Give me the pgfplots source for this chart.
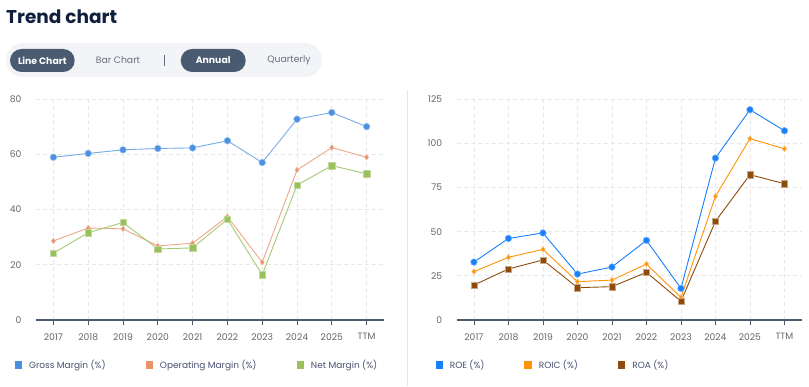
\documentclass[border=0pt]{standalone}
\usepackage{pgfplots}
\pgfplotsset{compat=1.18}
\usepackage{fontspec}
\setmainfont{Poppins}
\definecolor{gmc}{HTML}{4A90E2}
\definecolor{omc}{HTML}{E8916B}
\definecolor{nmc}{HTML}{98C15B}
\definecolor{roec}{HTML}{1780FA}
\definecolor{roicc}{HTML}{FF9305}
\definecolor{roac}{HTML}{8E4B0C}
\definecolor{axisc}{HTML}{4D5A6E}
\definecolor{gridc}{HTML}{E8E8E8}
\definecolor{tickc}{HTML}{666666}
\definecolor{legc}{HTML}{4A5070}
\definecolor{titlec}{HTML}{0F1F3D}
\definecolor{pillbg}{HTML}{F3F4F8}
\definecolor{btnc}{HTML}{4A5A70}
\definecolor{btntxt}{HTML}{6A6E7A}
\pgfplotsset{
  trend/.style={
    scale only axis,
    clip=false,
    xmin=-0.5, xmax=9.5, ymin=0,
    axis x line=bottom, axis y line=left,
    x axis line style={-, draw=axisc, line width=1.2pt},
    y axis line style={draw=none},
    xtick={0,...,9},
    xticklabels={2017,2018,2019,2020,2021,2022,2023,2024,2025,TTM},
    tick align=outside, major tick length=5pt,
    xtick style={draw=axisc, line width=0.8pt},
    ytick style={draw=none},
    grid=major,
    major grid style={draw=gridc, line width=0.8pt, dash pattern=on 4pt off 3pt},
    /pgf/number format/assume math mode=true,
    ticklabel style={font=\fontsize{9.2}{11}\selectfont, text=tickc},
    xticklabel style={yshift=-5pt},
    yticklabel style={xshift=-6pt},
    legend columns=3,
    legend cell align=left,
    legend style={draw=none, fill=none, inner sep=0pt, anchor=west,
      font=\fontsize{9}{11}\selectfont, text=legc,
      nodes={inner sep=0pt},
      /tikz/every odd column/.append style={column sep=7pt},
      /tikz/every even column/.append style={column sep=40pt}},
    legend image code/.code={\fill[#1, draw=none] (0pt,-3.7pt) rectangle (7.4pt,3.7pt);},
  },
  line/.style={line width=0.9pt},
}
\begin{document}
\begin{tikzpicture}[x=1pt,y=1pt]
\path[use as bounding box, fill=white] (0,0) rectangle (809,386);
% title
\node[anchor=base west, inner sep=0pt, text=titlec, font=\fontsize{18.5}{22}\selectfont\bfseries] at (6,362) {Trend chart};
% toggle pill
\fill[pillbg, rounded corners=17pt] (6,309) rectangle (322,343);
\fill[btnc, rounded corners=11.5pt] (10,314) rectangle (74.7,337);
\node[text=white, font=\fontsize{9.3}{11}\selectfont\bfseries] at (42.3,325.5) {Line Chart};
\node[text=btntxt, font=\fontsize{9.3}{11}\selectfont] at (118,325.5) {Bar Chart};
\draw[btntxt, line width=0.8pt] (164.7,320) -- (164.7,331);
\fill[btnc, rounded corners=11.5pt] (180.7,314) rectangle (245.7,337);
\node[text=white, font=\fontsize{9.3}{11}\selectfont\bfseries] at (213.2,325.5) {Annual};
\node[text=btntxt, font=\fontsize{9.3}{11}\selectfont] at (289,325.5) {Quarterly};
% divider
\draw[draw=gridc, line width=1pt] (407,0) -- (407,296);

% left chart
\begin{axis}[trend,
  at={(36pt,66pt)}, anchor=south west,
  width=348pt, height=221pt,
  ymax=80, ytick={0,20,40,60,80},
  legend style={at={(-0.062,-0.204)}},
]
\addplot[line, color=gmc, draw=gmc!75, mark=*, mark size=3.3pt, mark options={fill=gmc, draw=gmc!60!white, line width=0.6pt}]
  coordinates {(0,58.9) (1,60.3) (2,61.6) (3,62.1) (4,62.3) (5,64.9) (6,57.0) (7,72.7) (8,75.1) (9,70.0)};
\addlegendentry{Gross Margin (\%)}
\addplot[line, color=omc, draw=omc!80, mark=diamond*, mark size=2.8pt, mark options={fill=omc, draw=omc!60!white, line width=0.5pt}]
  coordinates {(0,28.6) (1,33.3) (2,33.0) (3,26.8) (4,27.8) (5,37.4) (6,20.9) (7,54.3) (8,62.4) (9,58.9)};
\addlegendentry{Operating Margin (\%)}
\addplot[line, color=nmc, draw=nmc!85, mark=square*, mark size=3.2pt, mark options={fill=nmc, draw=nmc!60!white, line width=0.5pt}]
  coordinates {(0,24.2) (1,31.6) (2,35.3) (3,25.7) (4,26.1) (5,36.5) (6,16.4) (7,48.8) (8,55.9) (9,52.9)};
\addlegendentry{Net Margin (\%)}
\end{axis}

% right chart
\begin{axis}[trend,
  at={(456.7pt,66pt)}, anchor=south west,
  width=345pt, height=220.7pt,
  ymax=125, ytick={0,25,50,75,100,125},
  legend style={at={(-0.062,-0.204)}},
]
\addplot[line, color=roec, mark=*, mark size=3.3pt, mark options={fill=roec, draw=roec!60!white, line width=0.6pt}]
  coordinates {(0,32.8) (1,46.2) (2,49.3) (3,26.0) (4,30.0) (5,45.1) (6,17.9) (7,91.7) (8,119.1) (9,107.2)};
\addlegendentry{ROE (\%)}
\addplot[line, color=roicc, mark=diamond*, mark size=2.8pt, mark options={fill=roicc, draw=roicc!60!white, line width=0.5pt}]
  coordinates {(0,27.4) (1,35.5) (2,40.0) (3,21.7) (4,22.6) (5,31.7) (6,12.8) (7,70.0) (8,102.7) (9,97.0)};
\addlegendentry{ROIC (\%)}
\addplot[line, color=roac, mark=square*, mark size=3.2pt, mark options={fill=roac, draw=roac!50!white, line width=0.5pt}]
  coordinates {(0,19.8) (1,28.9) (2,34.0) (3,18.3) (4,18.9) (5,27.0) (6,10.6) (7,55.9) (8,82.3) (9,77.2)};
\addlegendentry{ROA (\%)}
\end{axis}
\end{tikzpicture}
\end{document}
